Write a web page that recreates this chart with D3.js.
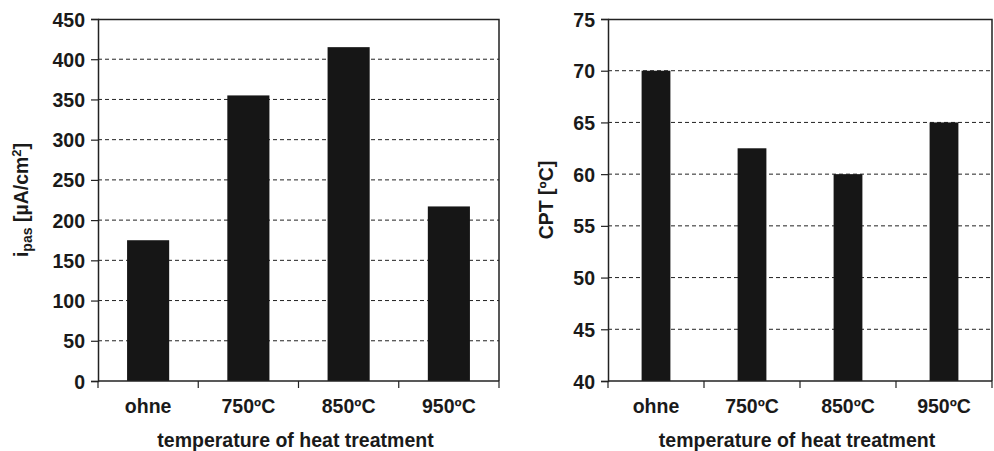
<!DOCTYPE html>
<html>
<head>
<meta charset="utf-8">
<script src="https://cdn.jsdelivr.net/npm/d3@7"></script>
<style>
  body { margin: 0; background: #fff; }
  text { font-family: "Liberation Sans", Arial, sans-serif; font-weight: bold; fill: #1a1a1a; }
</style>
</head>
<body>
<svg id="drawing_region"></svg>
<script>
const categories = ['ohne', '750ºC', '850ºC', '950ºC'];
const ipas_values = [175, 355, 415, 217];
const ipas_ticks = [0, 50, 100, 150, 200, 250, 300, 350, 400, 450];
const cpt_values = [70, 62.5, 60, 65];
const cpt_ticks = [40, 45, 50, 55, 60, 65, 70, 75];

class BarChart {
    constructor( config, data ) {
        this.config = config;
        this.data = data;
        this.init();
    }

    init() {
        let self = this;
        self.chart = d3.select( self.config.parent ).append('g')
            .attr('transform', `translate(${self.config.left}, ${self.config.top})`);

        self.inner_width = self.config.width;
        self.inner_height = self.config.height;

        self.xscale = d3.scaleBand()
            .domain( categories )
            .range( [0, self.inner_width] )
            .paddingInner( 0 ).paddingOuter( 0 );

        self.yscale = d3.scaleLinear()
            .domain( self.config.domain )
            .range( [self.inner_height, 0] );
    }

    render() {
        let self = this;
        const w = self.inner_width, h = self.inner_height;
        const fs = 19.5;

        // grid
        self.chart.append('g').selectAll('line')
            .data( self.config.ticks.slice(1, -1) )
            .join('line')
            .attr('x1', 0).attr('x2', w)
            .attr('y1', d => self.yscale(d)).attr('y2', d => self.yscale(d))
            .attr('stroke', '#222').attr('stroke-width', 1)
            .attr('stroke-dasharray', '4,3');

        // bars
        const bw = self.xscale.bandwidth() * self.config.barRatio;
        self.chart.append('g').selectAll('rect')
            .data( self.data )
            .join('rect')
            .attr('x', (d, i) => self.xscale(categories[i]) + (self.xscale.bandwidth() - bw) / 2)
            .attr('y', d => self.yscale(d))
            .attr('width', bw)
            .attr('height', d => h - self.yscale(d))
            .attr('fill', '#161616');

        // frame top / right
        self.chart.append('path')
            .attr('d', `M0,0.5 H${w} V${h}`)
            .attr('fill', 'none').attr('stroke', '#222').attr('stroke-width', 1.5);

        // y axis
        const yaxis = d3.axisLeft( self.yscale )
            .tickValues( self.config.ticks )
            .tickSize( 7 ).tickPadding( 6 );
        const yg = self.chart.append('g').call( yaxis );
        yg.select('.domain').attr('stroke', '#222').attr('stroke-width', 1.5);
        yg.selectAll('.tick line').attr('stroke', '#222').attr('stroke-width', 1.2);
        yg.selectAll('.tick text').attr('font-size', fs).attr('dy', '0.36em');

        // x axis with ticks on band edges
        const xg = self.chart.append('g').attr('transform', `translate(0, ${h})`);
        xg.append('line').attr('x1', 0).attr('x2', w)
            .attr('stroke', '#222').attr('stroke-width', 1.5);
        const edges = categories.map(c => self.xscale(c)).concat([w]);
        xg.selectAll('.edge')
            .data( edges )
            .join('line')
            .attr('x1', d => d).attr('x2', d => d)
            .attr('y1', 0).attr('y2', 7)
            .attr('stroke', '#222').attr('stroke-width', 1.2);
        xg.selectAll('.lab')
            .data( categories )
            .join('text')
            .attr('x', d => self.xscale(d) + self.xscale.bandwidth() / 2)
            .attr('y', 32)
            .attr('text-anchor', 'middle')
            .attr('font-size', fs)
            .text(d => d);

        // x label
        self.chart.append('text')
            .attr('x', w / 2 - 3)
            .attr('y', h + 66)
            .attr('text-anchor', 'middle')
            .attr('font-size', fs)
            .text('temperature of heat treatment');

        // y label
        const yl = self.chart.append('text')
            .attr('transform', `translate(${self.config.ylabelX}, ${h / 2}) rotate(-90)`)
            .attr('text-anchor', 'middle')
            .attr('font-size', fs);
        self.config.ylabel( yl );
    }
}

const svg = d3.select('#drawing_region').attr('width', 994).attr('height', 451);

const left = new BarChart({
    parent: '#drawing_region', left: 98, top: 19, width: 401, height: 362,
    domain: [0, 450], ticks: ipas_ticks, barRatio: 0.42, ylabelX: -70,
    ylabel: t => {
        t.append('tspan').text('i');
        t.append('tspan').attr('font-size', 14).attr('dy', 4).text('pas');
        t.append('tspan').attr('dy', -4).text(' [µA/cm');
        t.append('tspan').attr('font-size', 13).attr('dy', -7).text('2');
        t.append('tspan').attr('dy', 7).text(']');
    }
}, ipas_values);
left.render();

const right = new BarChart({
    parent: '#drawing_region', left: 608, top: 19, width: 384, height: 362,
    domain: [40, 75], ticks: cpt_ticks, barRatio: 0.3, ylabelX: -55,
    ylabel: t => t.text('CPT [ºC]')
}, cpt_values);
right.render();
</script>
</body>
</html>
